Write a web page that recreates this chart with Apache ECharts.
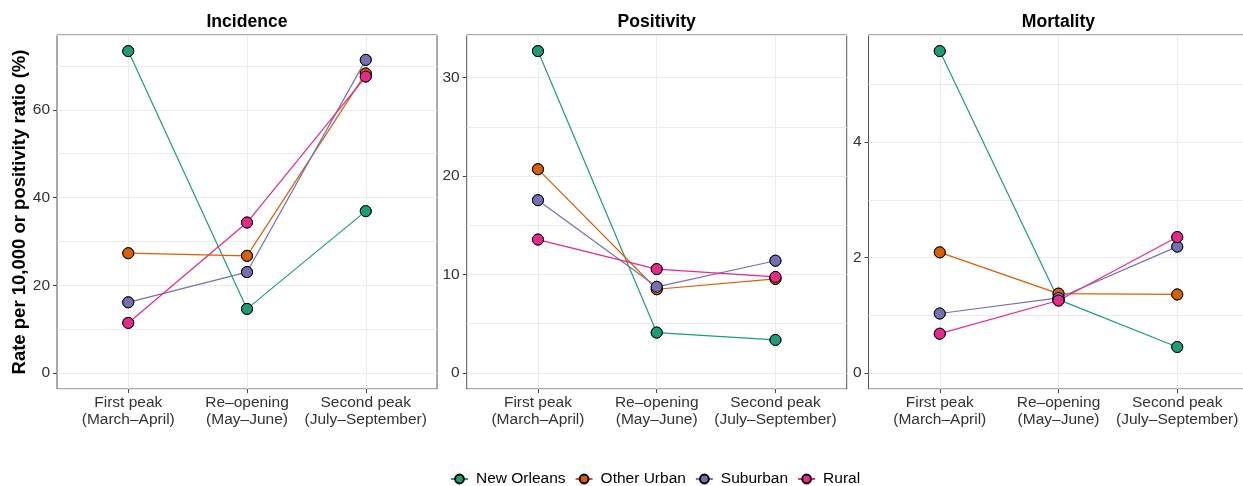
<!DOCTYPE html>
<html>
<head>
<meta charset="utf-8">
<script src="https://cdn.jsdelivr.net/npm/echarts@6/dist/echarts.min.js"></script>
<style>
html,body{margin:0;padding:0;background:#fff;}
#chart{width:1243px;height:486px;}
</style>
</head>
<body>
<div id="chart"></div>
<script>
// ---- data ----
const categories = ['First peak\n(March\u2013April)', 'Re\u2013opening\n(May\u2013June)', 'Second peak\n(July\u2013September)'];
const panelTitles = ['Incidence', 'Positivity', 'Mortality'];
const groupNames = ['New Orleans', 'Other Urban', 'Suburban', 'Rural'];

const incidenceNewOrleans = [73.4, 14.6, 36.9];
const incidenceOtherUrban = [27.3, 26.7, 68.3];
const incidenceSuburban   = [16.1, 23.0, 71.4];
const incidenceRural      = [11.4, 34.3, 67.6];

const positivityNewOrleans = [32.7, 4.1, 3.35];
const positivityOtherUrban = [20.7, 8.5, 9.55];
const positivitySuburban   = [17.55, 8.75, 11.4];
const positivityRural      = [13.55, 10.55, 9.75];

const mortalityNewOrleans = [5.58, 1.27, 0.45];
const mortalityOtherUrban = [2.09, 1.375, 1.36];
const mortalitySuburban   = [1.03, 1.30, 2.19];
const mortalityRural      = [0.68, 1.255, 2.355];

const incidenceTicks = [0, 20, 40, 60];
const positivityTicks = [0, 10, 20, 30];
const mortalityTicks = [0, 2, 4];

// ---- build ----
const panels = [
  {data: [incidenceNewOrleans, incidenceOtherUrban, incidenceSuburban, incidenceRural], ticks: incidenceTicks, split: 8},
  {data: [positivityNewOrleans, positivityOtherUrban, positivitySuburban, positivityRural], ticks: positivityTicks, split: 7},
  {data: [mortalityNewOrleans, mortalityOtherUrban, mortalitySuburban, mortalityRural], ticks: mortalityTicks, split: 6}
];
const colors = ['#1B9E77', '#D95F02', '#7570B3', '#E7298A'];
const FONT = "'Liberation Sans', Arial, Helvetica, sans-serif";
const gridLefts = [57, 466.7, 868.5];
const gridW = 380, gridTop = 35, gridH = 354;

const grids = [], xAxes = [], yAxes = [], series = [], titles = [];
panels.forEach((p, pi) => {
  grids.push({left: gridLefts[pi], top: gridTop, width: gridW, height: gridH, show: true,
    outerBoundsMode: 'none', containLabel: false,
    backgroundColor: '#fff', borderColor: '#555', borderWidth: 1});
  titles.push({text: panelTitles[pi], left: gridLefts[pi] + gridW / 2, top: 13, padding: 0,
    textAlign: 'center',
    textStyle: {fontFamily: FONT, fontSize: 17.6, fontWeight: 'bold', color: '#000'}});
  let maxV = 0;
  p.data.forEach(arr => arr.forEach(v => { if (v > maxV) maxV = v; }));
  const lo = -0.05 * maxV, hi = maxV * 1.05;
  xAxes.push({type: 'value', gridIndex: pi, min: 0.4, max: 3.6, position: 'bottom',
    axisLine: {show: false, onZero: false},
    axisTick: {show: true, length: 4, lineStyle: {color: '#444', width: 1}, customValues: [1, 2, 3]},
    axisLabel: {customValues: [1, 2, 3], margin: 5, formatter: v => categories[Math.round(v) - 1] || '',
      fontFamily: FONT, fontSize: 15.5, lineHeight: 17, color: '#333'},
    splitLine: {show: true, lineStyle: {color: '#EBEBEB', width: 1}}
  });
  // axis A: gridlines
  yAxes.push({type: 'value', gridIndex: pi, min: lo, max: hi, splitNumber: p.split,
    axisLine: {show: false, onZero: false}, axisTick: {show: false}, axisLabel: {show: false},
    splitLine: {show: true, lineStyle: {color: '#EBEBEB', width: 1}},
    name: pi === 0 ? 'Rate per 10,000 or positivity ratio (%)' : '',
    nameLocation: 'middle', nameGap: 28,
    nameTextStyle: {fontFamily: FONT, fontSize: 18.5, fontWeight: 'bold', color: '#000'}
  });
  // axis B: ticks and labels
  yAxes.push({type: 'value', gridIndex: pi, min: lo, max: hi, position: 'left', offset: 0,
    axisLine: {show: false, onZero: false},
    axisTick: {show: true, length: 4, customValues: p.ticks, lineStyle: {color: '#444', width: 1}},
    axisLabel: {show: true, customValues: p.ticks, margin: 7, fontFamily: FONT, fontSize: 15.5, color: '#333'},
    splitLine: {show: false}
  });
  p.data.forEach((arr, gi) => {
    const pts = arr.map((v, i) => [i + 1, v]);
    series.push({type: 'line', name: groupNames[gi], xAxisIndex: pi, yAxisIndex: 2 * pi, data: pts,
      symbol: 'circle', symbolSize: 11, z: 2, animation: false,
      lineStyle: {color: colors[gi], width: 1.2},
      itemStyle: {color: colors[gi], borderColor: '#000', borderWidth: 1}});
  });
  p.data.forEach((arr, gi) => {
    const pts = arr.map((v, i) => [i + 1, v]);
    series.push({type: 'scatter', name: groupNames[gi], xAxisIndex: pi, yAxisIndex: 2 * pi, data: pts,
      symbol: 'circle', symbolSize: 11, z: 3, animation: false,
      itemStyle: {color: colors[gi], borderColor: '#000', borderWidth: 1, opacity: 1}});
  });
});

const chart = echarts.init(document.getElementById('chart'), null, {renderer: 'canvas'});
chart.setOption({
  animation: false,
  color: colors,
  title: titles,
  grid: grids,
  xAxis: xAxes,
  yAxis: yAxes,
  legend: {data: groupNames, left: 450, top: 471, padding: 0, itemGap: 9,
    itemWidth: 17, itemHeight: 11,
    textStyle: {fontFamily: FONT, fontSize: 15.5, color: '#000', padding: [0, 0, 0, 3]}},
  series: series
});
</script>
</body>
</html>
